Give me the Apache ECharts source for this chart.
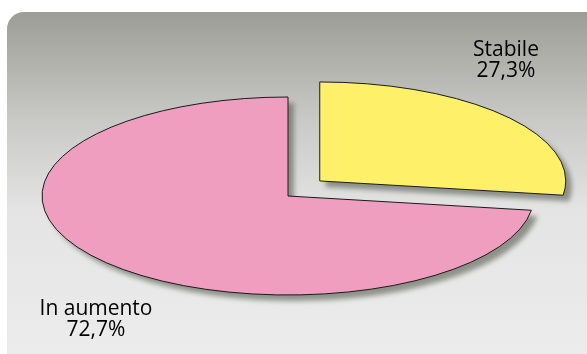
<!DOCTYPE html>
<html>
<head>
<meta charset="utf-8">
<script src="https://cdn.jsdelivr.net/npm/echarts@6/dist/echarts.min.js"></script>
<style>
  html, body { margin: 0; padding: 0; background: #ffffff; }
  #chart { width: 587px; height: 354px; }
</style>
</head>
<body>
<div id="chart"></div>
<script>
// Share of answers per category (percent)
const categories = ['Stabile', 'In aumento'];
const shares = [27.3, 72.7];
const sliceColors = ['#fff06a', '#f09ec0'];

// Layout of the flattened (tilted) pie
const pieCenter = [288, 196];
const pieRadius = [246, 99];           // horizontal / vertical radius
const explodeScale = [42, 23];         // pull-out of exploded slices
const explodedSlices = [true, false];
const labelAnchors = [[506, 61], [96, 320]];

const total = shares.reduce((a, b) => a + b, 0);

function fmtPct(v) {
  return v.toFixed(1).replace('.', ',') + '%';
}

function renderSlice(params, api) {
  const i = params.dataIndex;
  const value = api.value(0);
  let before = 0;
  for (let k = 0; k < i; k++) before += shares[k];
  const a0 = (-90 + 360 * before / total) * Math.PI / 180;
  const a1 = a0 + (360 * value / total) * Math.PI / 180;
  const mid = (a0 + a1) / 2;
  let cx = pieCenter[0], cy = pieCenter[1];
  if (explodedSlices[i]) {
    cx += explodeScale[0] * Math.cos(mid);
    cy += explodeScale[1] * Math.sin(mid);
  }
  const rx = pieRadius[0], ry = pieRadius[1];
  const x0 = cx + rx * Math.cos(a0), y0 = cy + ry * Math.sin(a0);
  const x1 = cx + rx * Math.cos(a1), y1 = cy + ry * Math.sin(a1);
  const large = (a1 - a0) > Math.PI ? 1 : 0;
  const d = 'M' + cx + ' ' + cy + ' L' + x0 + ' ' + y0 +
            ' A' + rx + ' ' + ry + ' 0 ' + large + ' 1 ' + x1 + ' ' + y1 + ' Z';
  return {
    type: 'group',
    children: [
      // filled slice casting the drop shadow
      {
        type: 'path',
        shape: { pathData: d },
        style: {
          fill: sliceColors[i],
          stroke: null,
          shadowBlur: 5,
          shadowOffsetX: 6,
          shadowOffsetY: 6,
          shadowColor: 'rgba(95, 100, 88, 0.65)'
        }
      },
      // outline on top, without shadow
      {
        type: 'path',
        shape: { pathData: d },
        style: {
          fill: null,
          stroke: '#1a1a1a',
          lineWidth: 1
        }
      },
      {
        type: 'text',
        x: labelAnchors[i][0],
        y: labelAnchors[i][1],
        style: {
          text: categories[i] + '\n' + fmtPct(value),
          fill: '#000000',
          font: '21px "Open Sans", sans-serif',
          lineHeight: 21,
          align: 'center',
          verticalAlign: 'middle'
        }
      }
    ]
  };
}

const chart = echarts.init(document.getElementById('chart'), null, { renderer: 'canvas' });
chart.setOption({
  animation: false,
  graphic: [
    {
      type: 'rect',
      z: -10,
      shape: { x: 7, y: 12, width: 600, height: 360, r: 17 },
      style: {
        fill: {
          type: 'linear', x: 0, y: 0, x2: 0, y2: 1,
          colorStops: [
            { offset: 0, color: '#9c9d95' },
            { offset: 0.3, color: '#c9cac6' },
            { offset: 0.55, color: '#e3e4e3' },
            { offset: 1, color: '#ecedec' }
          ]
        }
      }
    }
  ],
  series: [
    {
      type: 'custom',
      coordinateSystem: 'none',
      renderItem: renderSlice,
      data: shares.map((v, i) => ({ name: categories[i], value: [v] }))
    }
  ]
});
</script>
</body>
</html>
